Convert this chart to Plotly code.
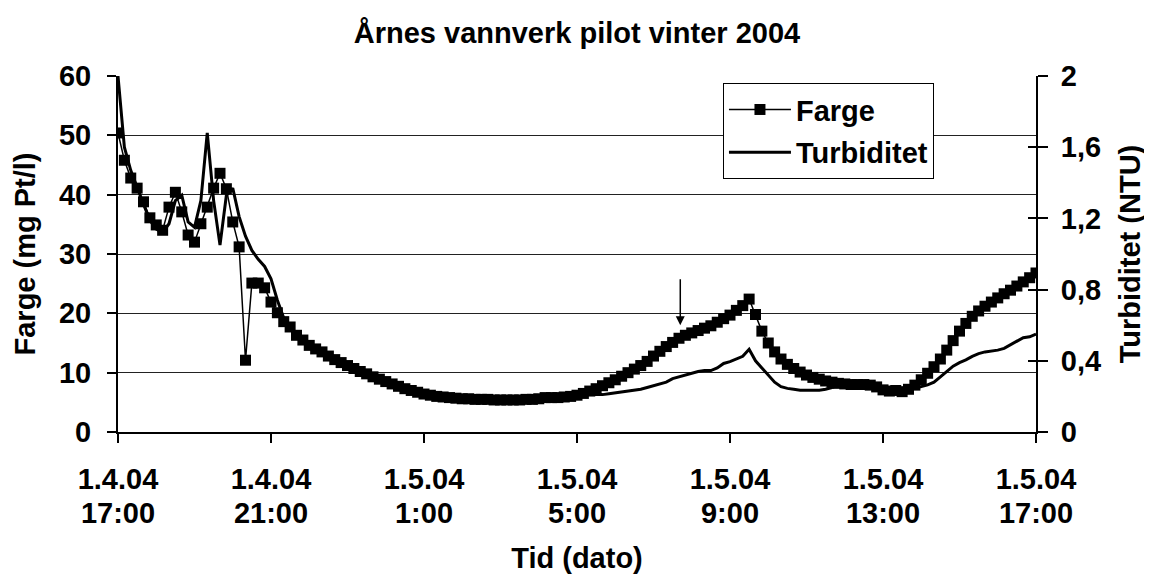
import plotly.graph_objects as go

# ---------------- data (10-minute readings from 1.4.04 17:00) ----------------
farge = [
    50.4, 45.8, 42.8, 41.1, 38.8, 36.1, 34.9, 34.0, 37.9, 40.4,
    37.1, 33.2, 32.0, 35.1, 37.9, 41.1, 43.6, 41.0, 35.4, 31.2,
    12.1, 25.1, 25.1, 24.3, 21.9, 20.1, 18.6, 17.7, 16.3, 15.5,
    14.6, 14.0, 13.5, 12.8, 12.2, 11.7, 11.2, 10.7, 10.2, 9.8,
    9.3, 8.9, 8.5, 8.1, 7.7, 7.3, 7.0, 6.7, 6.4, 6.2,
    6.0, 5.9, 5.8, 5.7, 5.6, 5.6, 5.5, 5.5, 5.5, 5.4,
    5.4, 5.4, 5.4, 5.4, 5.5, 5.5, 5.6, 5.8, 5.8, 5.8,
    5.9, 6.0, 6.2, 6.5, 6.9, 7.3, 7.8, 8.3, 8.8, 9.4,
    10.0, 10.6, 11.2, 11.9, 12.8, 13.6, 14.4, 15.1, 15.8, 16.3,
    16.7, 17.1, 17.5, 17.9, 18.5, 19.1, 19.7, 20.5, 21.3, 22.4,
    19.8, 17.0, 15.0, 13.5, 12.3, 11.4, 10.7, 10.1, 9.6, 9.2,
    8.9, 8.6, 8.4, 8.2, 8.1, 8.0, 8.0, 8.0, 7.9, 7.6,
    7.1, 6.9, 7.0, 6.8, 7.2, 7.9, 8.8, 9.9, 11.0, 12.3,
    13.8, 15.4, 17.0, 18.3, 19.5, 20.4, 21.2, 21.9, 22.6, 23.3,
    23.9, 24.6, 25.3, 26.0, 26.8,
]

turbiditet = [
    2.00, 1.60, 1.47, 1.37, 1.28, 1.19, 1.14, 1.12, 1.17, 1.30,
    1.33, 1.18, 1.15, 1.30, 1.68, 1.30, 1.05, 1.33, 1.37, 1.21,
    1.10, 1.02, 0.97, 0.93, 0.86, 0.74, 0.64, 0.59, 0.54, 0.52,
    0.49, 0.47, 0.45, 0.43, 0.41, 0.39, 0.37, 0.36, 0.34, 0.33,
    0.31, 0.30, 0.28, 0.27, 0.26, 0.245, 0.235, 0.225, 0.215, 0.21,
    0.20, 0.20, 0.195, 0.19, 0.19, 0.185, 0.185, 0.185, 0.18, 0.18,
    0.18, 0.18, 0.18, 0.18, 0.185, 0.185, 0.19, 0.195, 0.195, 0.195,
    0.20, 0.20, 0.205, 0.21, 0.21, 0.21, 0.21, 0.215, 0.22, 0.225,
    0.23, 0.235, 0.24, 0.25, 0.26, 0.27, 0.28, 0.30, 0.31, 0.32,
    0.33, 0.34, 0.345, 0.345, 0.36, 0.385, 0.395, 0.41, 0.425, 0.465,
    0.40, 0.36, 0.32, 0.28, 0.255, 0.245, 0.24, 0.235, 0.235, 0.235,
    0.235, 0.24, 0.25, 0.265, 0.27, 0.267, 0.267, 0.267, 0.263, 0.253,
    0.237, 0.23, 0.233, 0.227, 0.235, 0.245, 0.255, 0.265, 0.28, 0.31,
    0.34, 0.37, 0.39, 0.405, 0.425, 0.44, 0.45, 0.455, 0.46, 0.47,
    0.49, 0.51, 0.53, 0.535, 0.55,
]

tick_hours = [0, 4, 8, 12, 16, 20, 24]
tick_dates = ["1.4.04", "1.4.04", "1.5.04", "1.5.04", "1.5.04", "1.5.04", "1.5.04"]
tick_times = ["17:00", "21:00", "1:00", "5:00", "9:00", "13:00", "17:00"]

left_ticks = [0, 10, 20, 30, 40, 50, 60]
right_ticks = [0, 0.4, 0.8, 1.2, 1.6, 2.0]
right_labels = ["0", "0,4", "0,8", "1,2", "1,6", "2"]

arrow_hour = 14.7
arrow_head, arrow_tail = 18.0, 26.0

hours = [i / 6 for i in range(len(farge))]

FONT = "Liberation Sans, Arial, sans-serif"
bold = dict(family=FONT, size=29, color="black", weight="bold")

fig = go.Figure()
fig.add_trace(go.Scatter(
    x=hours, y=farge, name="Farge", mode="lines+markers",
    line=dict(color="black", width=1.5),
    marker=dict(symbol="square", size=11, color="black"),
    legendgroup="a",
))
fig.add_trace(go.Scatter(
    x=hours, y=turbiditet, name="Turbiditet", mode="lines", yaxis="y2",
    line=dict(color="black", width=3),
    legendgroup="b",
))
# carrier for the inside half of the crossing right-axis ticks
fig.add_trace(go.Scatter(x=[None], y=[None], yaxis="y3", xaxis="x2",
                         showlegend=False, hoverinfo="skip"))

fig.update_layout(
    width=1152, height=574,
    margin=dict(l=110, r=124, t=68, b=150),
    paper_bgcolor="white", plot_bgcolor="white",
    font=dict(family=FONT, color="black"),
    title=dict(text="Årnes vannverk pilot vinter 2004", x=0.5, xref="paper",
               xanchor="center", y=0.957, yanchor="middle", font=bold),
    showlegend=True,
    legend=dict(x=0.659, y=0.98, xanchor="left", yanchor="top",
                bordercolor="black", borderwidth=1, bgcolor="white",
                font=bold, itemwidth=62,
                tracegroupgap=2, traceorder="grouped"),
    xaxis=dict(range=[0, 24], tickvals=tick_hours, ticktext=tick_dates,
               ticks="outside", ticklen=9, tickwidth=1.5, tickcolor="black",
               showline=True, linecolor="black", linewidth=2,
               showgrid=False, zeroline=False, tickfont=bold,
               ticklabelstandoff=11, automargin=False),
    xaxis2=dict(range=[0, 24], overlaying="x", anchor="y", side="bottom",
                tickvals=tick_hours, ticktext=tick_times, ticks="",
                showline=False, showgrid=False, zeroline=False,
                tickfont=bold, ticklabelstandoff=61, automargin=False,
                title=dict(text="Tid (dato)", font=bold, standoff=19)),
    yaxis=dict(range=[0, 60], tickvals=left_ticks,
               ticks="outside", ticklen=9, tickwidth=1.5, tickcolor="black",
               showline=True, linecolor="black", linewidth=2,
               showgrid=True, gridcolor="#222222", gridwidth=1,
               zeroline=False, tickfont=bold, ticklabelstandoff=10,
               automargin=False,
               title=dict(text="Farge (mg Pt/l)", font=bold, standoff=15)),
    yaxis2=dict(range=[0, 2], overlaying="y", side="right", anchor="x",
                tickvals=right_ticks, ticktext=right_labels,
                ticks="outside", ticklen=10, tickwidth=1.5, tickcolor="black",
                showline=True, linecolor="black", linewidth=2,
                showgrid=False, zeroline=False, tickfont=bold,
                ticklabelstandoff=7, automargin=False,
                title=dict(text="Turbiditet (NTU)", font=bold, standoff=20)),
    yaxis3=dict(range=[0, 2], overlaying="y", side="right", anchor="x",
                tickvals=right_ticks, ticks="inside", ticklen=8, tickwidth=1.5,
                tickcolor="black", showticklabels=False, showline=False,
                showgrid=False, zeroline=False, automargin=False),
)

fig.add_annotation(
    x=arrow_hour, y=arrow_head, xref="x", yref="y",
    ax=arrow_hour, ay=arrow_tail, axref="x", ayref="y",
    showarrow=True, arrowhead=2, arrowsize=1.2, arrowwidth=1.5,
    arrowcolor="black", text="",
)

fig.write_html("out.html")
